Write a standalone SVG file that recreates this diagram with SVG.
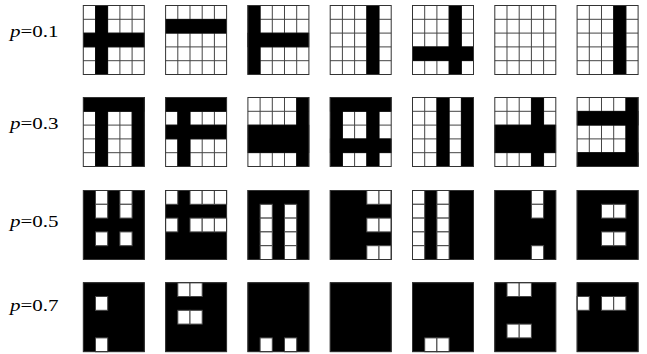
<svg xmlns="http://www.w3.org/2000/svg" xmlns:xlink="http://www.w3.org/1999/xlink" width="647" height="354" viewBox="0 0 647 354">
<style>
.bgw{fill:#fff}
.gl{fill:none;stroke:#444;stroke-width:1}
.blk{fill:#000;stroke:#000;stroke-width:0.6}
.wc{fill:#fff;stroke:#444;stroke-width:1}
.frame{fill:none;stroke:#333;stroke-width:1}
.lbl{font-family:"Liberation Serif","Times New Roman",serif;font-size:17.5px;fill:#000}
</style>
<defs>
<path id="grid" class="gl" d="M12.2 0V69M24.4 0V69M36.6 0V69M48.8 0V69M0 13.8H61M0 27.6H61M0 41.4H61M0 55.2H61"/>
<rect id="w" class="wc" width="12.2" height="13.8"/>
<rect id="fr" class="frame" width="61" height="69"/>
</defs>
<rect width="647" height="354" fill="#fff"/>
<g id="labels">
<text class="lbl" transform="translate(10,36.5) scale(1.2,1)"><tspan font-style="italic">p</tspan>=0.1</text>
<text class="lbl" transform="translate(10,129.2) scale(1.2,1)"><tspan font-style="italic">p</tspan>=0.3</text>
<text class="lbl" transform="translate(10,227.2) scale(1.2,1)"><tspan font-style="italic">p</tspan>=0.5</text>
<text class="lbl" transform="translate(10,310.7) scale(1.2,1)"><tspan font-style="italic">p</tspan>=0.7</text>
</g>
<!-- row p=0.1 -->
<g id="r1c1" transform="translate(83.3,5.5)"><rect class="bgw" width="61" height="69"/><use href="#grid"/><rect class="blk" x="12.2" y="0" width="12.2" height="69"/><rect class="blk" x="0" y="27.6" width="61" height="13.8"/><use href="#fr"/></g>
<g id="r1c2" transform="translate(165.6,5.5)"><rect class="bgw" width="61" height="69"/><use href="#grid"/><rect class="blk" x="0" y="13.8" width="61" height="13.8"/><use href="#fr"/></g>
<g id="r1c3" transform="translate(247.9,5.5)"><rect class="bgw" width="61" height="69"/><use href="#grid"/><rect class="blk" x="0" y="0" width="12.2" height="69"/><rect class="blk" x="0" y="27.6" width="61" height="13.8"/><use href="#fr"/></g>
<g id="r1c4" transform="translate(330.2,5.5)"><rect class="bgw" width="61" height="69"/><use href="#grid"/><rect class="blk" x="36.6" y="0" width="12.2" height="69"/><use href="#fr"/></g>
<g id="r1c5" transform="translate(412.5,5.5)"><rect class="bgw" width="61" height="69"/><use href="#grid"/><rect class="blk" x="36.6" y="0" width="12.2" height="69"/><rect class="blk" x="0" y="41.4" width="61" height="13.8"/><use href="#fr"/></g>
<g id="r1c6" transform="translate(494.8,5.5)"><rect class="bgw" width="61" height="69"/><use href="#grid"/><use href="#fr"/></g>
<g id="r1c7" transform="translate(577.1,5.5)"><rect class="bgw" width="61" height="69"/><use href="#grid"/><rect class="blk" x="36.6" y="0" width="12.2" height="69"/><use href="#fr"/></g>
<!-- row p=0.3 -->
<g id="r2c1" transform="translate(83.3,97.5)"><rect class="bgw" width="61" height="69"/><use href="#grid"/><rect class="blk" x="0" y="0" width="61" height="13.8"/><rect class="blk" x="12.2" y="0" width="12.2" height="69"/><rect class="blk" x="48.8" y="0" width="12.2" height="69"/><use href="#fr"/></g>
<g id="r2c2" transform="translate(165.6,97.5)"><rect class="bgw" width="61" height="69"/><use href="#grid"/><rect class="blk" x="0" y="0" width="61" height="13.8"/><rect class="blk" x="0" y="27.6" width="61" height="13.8"/><rect class="blk" x="12.2" y="0" width="12.2" height="69"/><use href="#fr"/></g>
<g id="r2c3" transform="translate(247.9,97.5)"><rect class="bgw" width="61" height="69"/><use href="#grid"/><rect class="blk" x="48.8" y="0" width="12.2" height="69"/><rect class="blk" x="0" y="27.6" width="61" height="27.6"/><use href="#fr"/></g>
<g id="r2c4" transform="translate(330.2,97.5)"><rect class="bgw" width="61" height="69"/><use href="#grid"/><rect class="blk" x="0" y="0" width="61" height="13.8"/><rect class="blk" x="0" y="41.4" width="61" height="13.8"/><rect class="blk" x="0" y="0" width="12.2" height="69"/><rect class="blk" x="36.6" y="0" width="12.2" height="69"/><use href="#fr"/></g>
<g id="r2c5" transform="translate(412.5,97.5)"><rect class="bgw" width="61" height="69"/><use href="#grid"/><rect class="blk" x="24.4" y="0" width="12.2" height="69"/><rect class="blk" x="48.8" y="0" width="12.2" height="69"/><use href="#fr"/></g>
<g id="r2c6" transform="translate(494.8,97.5)"><rect class="bgw" width="61" height="69"/><use href="#grid"/><rect class="blk" x="36.6" y="0" width="12.2" height="69"/><rect class="blk" x="0" y="27.6" width="61" height="27.6"/><use href="#fr"/></g>
<g id="r2c7" transform="translate(577.1,97.5)"><rect class="bgw" width="61" height="69"/><use href="#grid"/><rect class="blk" x="48.8" y="0" width="12.2" height="69"/><rect class="blk" x="0" y="13.8" width="61" height="13.8"/><rect class="blk" x="0" y="55.2" width="61" height="13.8"/><use href="#fr"/></g>
<!-- row p=0.5 -->
<g id="r3c1" transform="translate(83.3,190.5)"><rect class="blk" width="61" height="69"/><use href="#w" x="12.2" y="0"/><use href="#w" x="36.6" y="0"/><use href="#w" x="12.2" y="13.8"/><use href="#w" x="36.6" y="13.8"/><use href="#w" x="12.2" y="41.4"/><use href="#w" x="36.6" y="41.4"/><use href="#fr"/></g>
<g id="r3c2" transform="translate(165.6,190.5)"><rect class="blk" width="61" height="69"/><use href="#w" x="0" y="0"/><use href="#w" x="24.4" y="0"/><use href="#w" x="36.6" y="0"/><use href="#w" x="48.8" y="0"/><use href="#w" x="0" y="27.6"/><use href="#w" x="24.4" y="27.6"/><use href="#w" x="36.6" y="27.6"/><use href="#w" x="48.8" y="27.6"/><use href="#fr"/></g>
<g id="r3c3" transform="translate(247.9,190.5)"><rect class="blk" width="61" height="69"/><use href="#w" x="12.2" y="13.8"/><use href="#w" x="12.2" y="27.6"/><use href="#w" x="12.2" y="41.4"/><use href="#w" x="12.2" y="55.2"/><use href="#w" x="36.6" y="13.8"/><use href="#w" x="36.6" y="27.6"/><use href="#w" x="36.6" y="41.4"/><use href="#w" x="36.6" y="55.2"/><use href="#fr"/></g>
<g id="r3c4" transform="translate(330.2,190.5)"><rect class="blk" width="61" height="69"/><use href="#w" x="36.6" y="0"/><use href="#w" x="48.8" y="0"/><use href="#w" x="36.6" y="27.6"/><use href="#w" x="48.8" y="27.6"/><use href="#w" x="36.6" y="55.2"/><use href="#w" x="48.8" y="55.2"/><use href="#fr"/></g>
<g id="r3c5" transform="translate(412.5,190.5)"><rect class="blk" width="61" height="69"/><use href="#w" x="0" y="0"/><use href="#w" x="0" y="13.8"/><use href="#w" x="0" y="27.6"/><use href="#w" x="0" y="41.4"/><use href="#w" x="0" y="55.2"/><use href="#w" x="24.4" y="0"/><use href="#w" x="24.4" y="13.8"/><use href="#w" x="24.4" y="27.6"/><use href="#w" x="24.4" y="41.4"/><use href="#w" x="24.4" y="55.2"/><use href="#fr"/></g>
<g id="r3c6" transform="translate(494.8,190.5)"><rect class="blk" width="61" height="69"/><use href="#w" x="36.6" y="0"/><use href="#w" x="36.6" y="13.8"/><use href="#w" x="36.6" y="55.2"/><use href="#fr"/></g>
<g id="r3c7" transform="translate(577.1,190.5)"><rect class="blk" width="61" height="69"/><use href="#w" x="24.4" y="13.8"/><use href="#w" x="36.6" y="13.8"/><use href="#w" x="24.4" y="41.4"/><use href="#w" x="36.6" y="41.4"/><use href="#fr"/></g>
<!-- row p=0.7 -->
<g id="r4c1" transform="translate(83.3,282.7)"><rect class="blk" width="61" height="69"/><use href="#w" x="12.2" y="13.8"/><use href="#w" x="12.2" y="55.2"/><use href="#fr"/></g>
<g id="r4c2" transform="translate(165.6,282.7)"><rect class="blk" width="61" height="69"/><use href="#w" x="12.2" y="0"/><use href="#w" x="24.4" y="0"/><use href="#w" x="12.2" y="27.6"/><use href="#w" x="24.4" y="27.6"/><use href="#fr"/></g>
<g id="r4c3" transform="translate(247.9,282.7)"><rect class="blk" width="61" height="69"/><use href="#w" x="12.2" y="55.2"/><use href="#w" x="36.6" y="55.2"/><use href="#fr"/></g>
<g id="r4c4" transform="translate(330.2,282.7)"><rect class="blk" width="61" height="69"/><use href="#fr"/></g>
<g id="r4c5" transform="translate(412.5,282.7)"><rect class="blk" width="61" height="69"/><use href="#w" x="12.2" y="55.2"/><use href="#w" x="24.4" y="55.2"/><use href="#fr"/></g>
<g id="r4c6" transform="translate(494.8,282.7)"><rect class="blk" width="61" height="69"/><use href="#w" x="12.2" y="0"/><use href="#w" x="24.4" y="0"/><use href="#w" x="12.2" y="41.4"/><use href="#w" x="24.4" y="41.4"/><use href="#fr"/></g>
<g id="r4c7" transform="translate(577.1,282.7)"><rect class="blk" width="61" height="69"/><use href="#w" x="0" y="13.8"/><use href="#w" x="24.4" y="13.8"/><use href="#w" x="36.6" y="13.8"/><use href="#fr"/></g>
</svg>
